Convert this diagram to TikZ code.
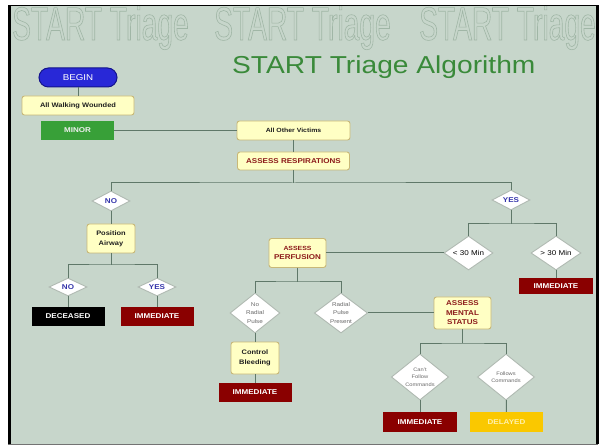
\documentclass[tikz,border=0pt]{standalone}
\usepackage{fontspec}
\setmainfont{Liberation Sans}[FakeStretch=1.15]
\newfontfamily\titlefont{Liberation Sans}[FakeStretch=1.15]
\newfontfamily\markfont{Liberation Sans}[FakeStretch=0.6]
\usetikzlibrary{shapes.geometric}

\definecolor{slidebg}{RGB}{199,214,203}
\definecolor{markline}{RGB}{160,182,166}
\definecolor{titlegreen}{RGB}{58,138,58}
\definecolor{linkline}{RGB}{95,120,105}
\definecolor{stepfill}{RGB}{255,255,196}
\definecolor{stepedge}{RGB}{200,184,120}
\definecolor{assessred}{RGB}{140,26,26}
\definecolor{queryedge}{RGB}{176,186,178}
\definecolor{queryblue}{RGB}{52,52,170}
\definecolor{querygray}{RGB}{105,105,105}
\definecolor{beginblue}{RGB}{40,40,215}
\definecolor{beginedge}{RGB}{20,20,140}
\definecolor{minorgreen}{RGB}{56,160,56}
\definecolor{immedred}{RGB}{138,0,0}
\definecolor{delayedgold}{RGB}{250,200,0}
\definecolor{delayedtext}{RGB}{255,240,170}

\newlength{\du}
\setlength{\du}{1pt}

% outlined letters for the watermark
\newcommand{\outlinetext}[1]{\special{pdf:literal direct 1 Tr 0.6 w}#1\special{pdf:literal direct 0 Tr}}

\tikzset{
  link/.style={draw=linkline, line width=1\du},
  startbox/.style={rounded corners=9.5\du, fill=beginblue, draw=beginedge, line width=1\du, minimum width=78\du, minimum height=19\du, inner sep=0pt, text=white, font=\fontsize{8.5}{9}\selectfont},
  stepbox/.style={draw=stepedge, fill=stepfill, line width=0.9\du, rounded corners=2.5\du, inner sep=0pt, align=center, text=black!88, font=\bfseries\fontsize{6.5}{10}\selectfont},
  assessbox/.style={stepbox, text=assessred, font=\bfseries\fontsize{7}{9.5}\selectfont},
  tagbox/.style={inner sep=0pt, minimum width=73\du, minimum height=19\du, text=white, font=\bfseries\fontsize{7}{8}\selectfont},
  query/.style={diamond, aspect=1.5, inner sep=0pt, draw=queryedge, fill=white, line width=0.9\du, align=center},
  yesno/.style={query, minimum width=38\du, minimum height=20\du, text=queryblue, font=\bfseries\fontsize{7}{8}\selectfont},
  pulsetext/.style={text=querygray, font=\fontsize{5.5}{8.5}\selectfont},
}

\begin{document}
\begin{tikzpicture}
\pgftransformxscale{1.000000}
\pgftransformyscale{-1.000000}
\useasboundingbox (0\du,0\du) rectangle (605\du,446\du);
% slide and frame
\fill[slidebg] (8\du,5\du) rectangle (598\du,444\du);
\draw[black!55, line width=1\du] (8\du,444\du) -- (598\du,444\du);
\draw[black, line width=3\du] (9.5\du,444\du) -- (9.5\du,5\du);
\draw[black, line width=3\du] (597\du,444\du) -- (597\du,5\du);
\draw[black, line width=1.5\du] (8\du,5.5\du) -- (598.5\du,5.5\du);
\node[anchor=base west, inner sep=0pt, text=titlegreen, font=\titlefont\fontsize{24.5}{24.5}\selectfont] (title) at (232\du,74\du) {START Triage Algorithm};

% top of the chart
\node[startbox] (begin) at (78\du,77.5\du) {BEGIN};
\node[stepbox, minimum width=112\du, minimum height=19\du] (walking) at (78\du,105.5\du) {All Walking Wounded};
\node[tagbox, fill=minorgreen, text=white!88!gray] (minor) at (77.5\du,130.5\du) {MINOR};
\node[stepbox, minimum width=113\du, minimum height=19\du, font=\bfseries\fontsize{6}{7}\selectfont] (others) at (293.5\du,130.5\du) {All Other Victims};
\node[assessbox, minimum width=112\du, minimum height=18\du] (resp) at (293.5\du,161\du) {ASSESS RESPIRATIONS};

% not breathing
\node[yesno] (breathno) at (111\du,201\du) {NO};
\node[stepbox, minimum width=48\du, minimum height=29\du] (airway) at (111\du,238.5\du) {Position\\Airway};
\node[yesno, minimum height=18\du] (airwayno) at (68\du,287\du) {NO};
\node[yesno, minimum height=18\du] (airwayyes) at (157\du,287\du) {YES};
\node[tagbox, fill=black] (deceased) at (68\du,316.5\du) {DECEASED};
\node[tagbox, fill=immedred] (immeda) at (157\du,316.5\du) {IMMEDIATE};

% breathing
\node[yesno] (breathyes) at (511\du,200\du) {YES};
\node[query, minimum width=49\du, minimum height=34\du, font=\fontsize{7}{8}\selectfont] (under30) at (468.5\du,253\du) {< 30 Min};
\node[query, minimum width=50\du, minimum height=34\du, font=\fontsize{7}{8}\selectfont] (over30) at (556\du,253\du) {> 30 Min};
\node[tagbox, fill=immedred, minimum width=74\du, minimum height=16\du] (immedb) at (556\du,286\du) {IMMEDIATE};

% perfusion
\node[assessbox, minimum width=57\du, minimum height=29\du] (perf) at (297.5\du,253\du) {{\fontsize{6}{8}\selectfont ASSESS}\\PERFUSION};
\node[query, pulsetext, minimum width=50\du, minimum height=40\du] (nopulse) at (255\du,313\du) {No\\Radial\\Pulse};
\node[query, pulsetext, minimum width=50\du, minimum height=40\du] (pulse) at (341\du,313\du) {Radial\\Pulse\\Present};
\node[stepbox, minimum width=48\du, minimum height=32\du] (bleed) at (255\du,358\du) {Control\\Bleeding};
\node[tagbox, fill=immedred] (immedc) at (255\du,392.5\du) {IMMEDIATE};

% mental status
\node[assessbox, minimum width=57\du, minimum height=32\du] (mental) at (462.5\du,313\du) {ASSESS\\MENTAL\\STATUS};
\node[query, pulsetext, font=\fontsize{5}{7.5}\selectfont, minimum width=57\du, minimum height=46\du] (cantfollow) at (420\du,377\du) {Can't\\Follow\\Commands};
\node[query, pulsetext, font=\fontsize{5}{7.5}\selectfont, minimum width=57\du, minimum height=46\du] (follows) at (506\du,377\du) {Follows\\Commands};
\node[tagbox, fill=immedred, minimum width=74\du, minimum height=20\du] (immedd) at (420\du,422\du) {IMMEDIATE};
\node[tagbox, fill=delayedgold, text=delayedtext, minimum height=20\du] (delayed) at (506.5\du,422\du) {DELAYED};

% forks
\coordinate (respfork) at (293.5\du,183\du);
\coordinate (airwayfork) at (111\du,265\du);
\coordinate (timefork) at (511\du,224\du);
\coordinate (perffork) at (297.5\du,282\du);
\coordinate (mentalfork) at (462.5\du,343\du);

\draw[link] (begin) -- (walking);
\draw[link] (minor) -- (others);
\draw[link] (others) -- (resp);
\draw[link] (resp) -- (respfork);
\draw[link] (breathno) |- (respfork) -| (breathyes);
\draw[link] (breathno) -- (airway);
\draw[link] (airway) -- (airwayfork);
\draw[link] (airwayno) |- (airwayfork) -| (airwayyes);
\draw[link] (airwayno) -- (deceased);
\draw[link] (airwayyes) -- (immeda);
\draw[link] (breathyes) -- (timefork);
\draw[link] (under30) |- (timefork) -| (over30);
\draw[link] (over30) -- (immedb);
\draw[link] (under30) -- (perf);
\draw[link] (perf) -- (perffork);
\draw[link] (nopulse) |- (perffork) -| (pulse);
\draw[link] (nopulse) -- (bleed);
\draw[link] (bleed) -- (immedc);
\draw[link] (pulse) -- (mental);
\draw[link] (mental) -- (mentalfork);
\draw[link] (cantfollow) |- (mentalfork) -| (follows);
\draw[link] (cantfollow) -- (immedd);
\draw[link] (follows) -- (delayed);

% watermark
\begin{scope}
\clip (11\du,6.3\du) rectangle (595.5\du,444\du);
\foreach \markx [count=\marki] in {12,214,419}
  \node[anchor=base west, inner sep=0pt, text=markline, font=\markfont\fontsize{47}{47}\selectfont] (mark\marki) at (\markx\du,40\du) {\outlinetext{START Triage}};
\end{scope}
\end{tikzpicture}
\end{document}
